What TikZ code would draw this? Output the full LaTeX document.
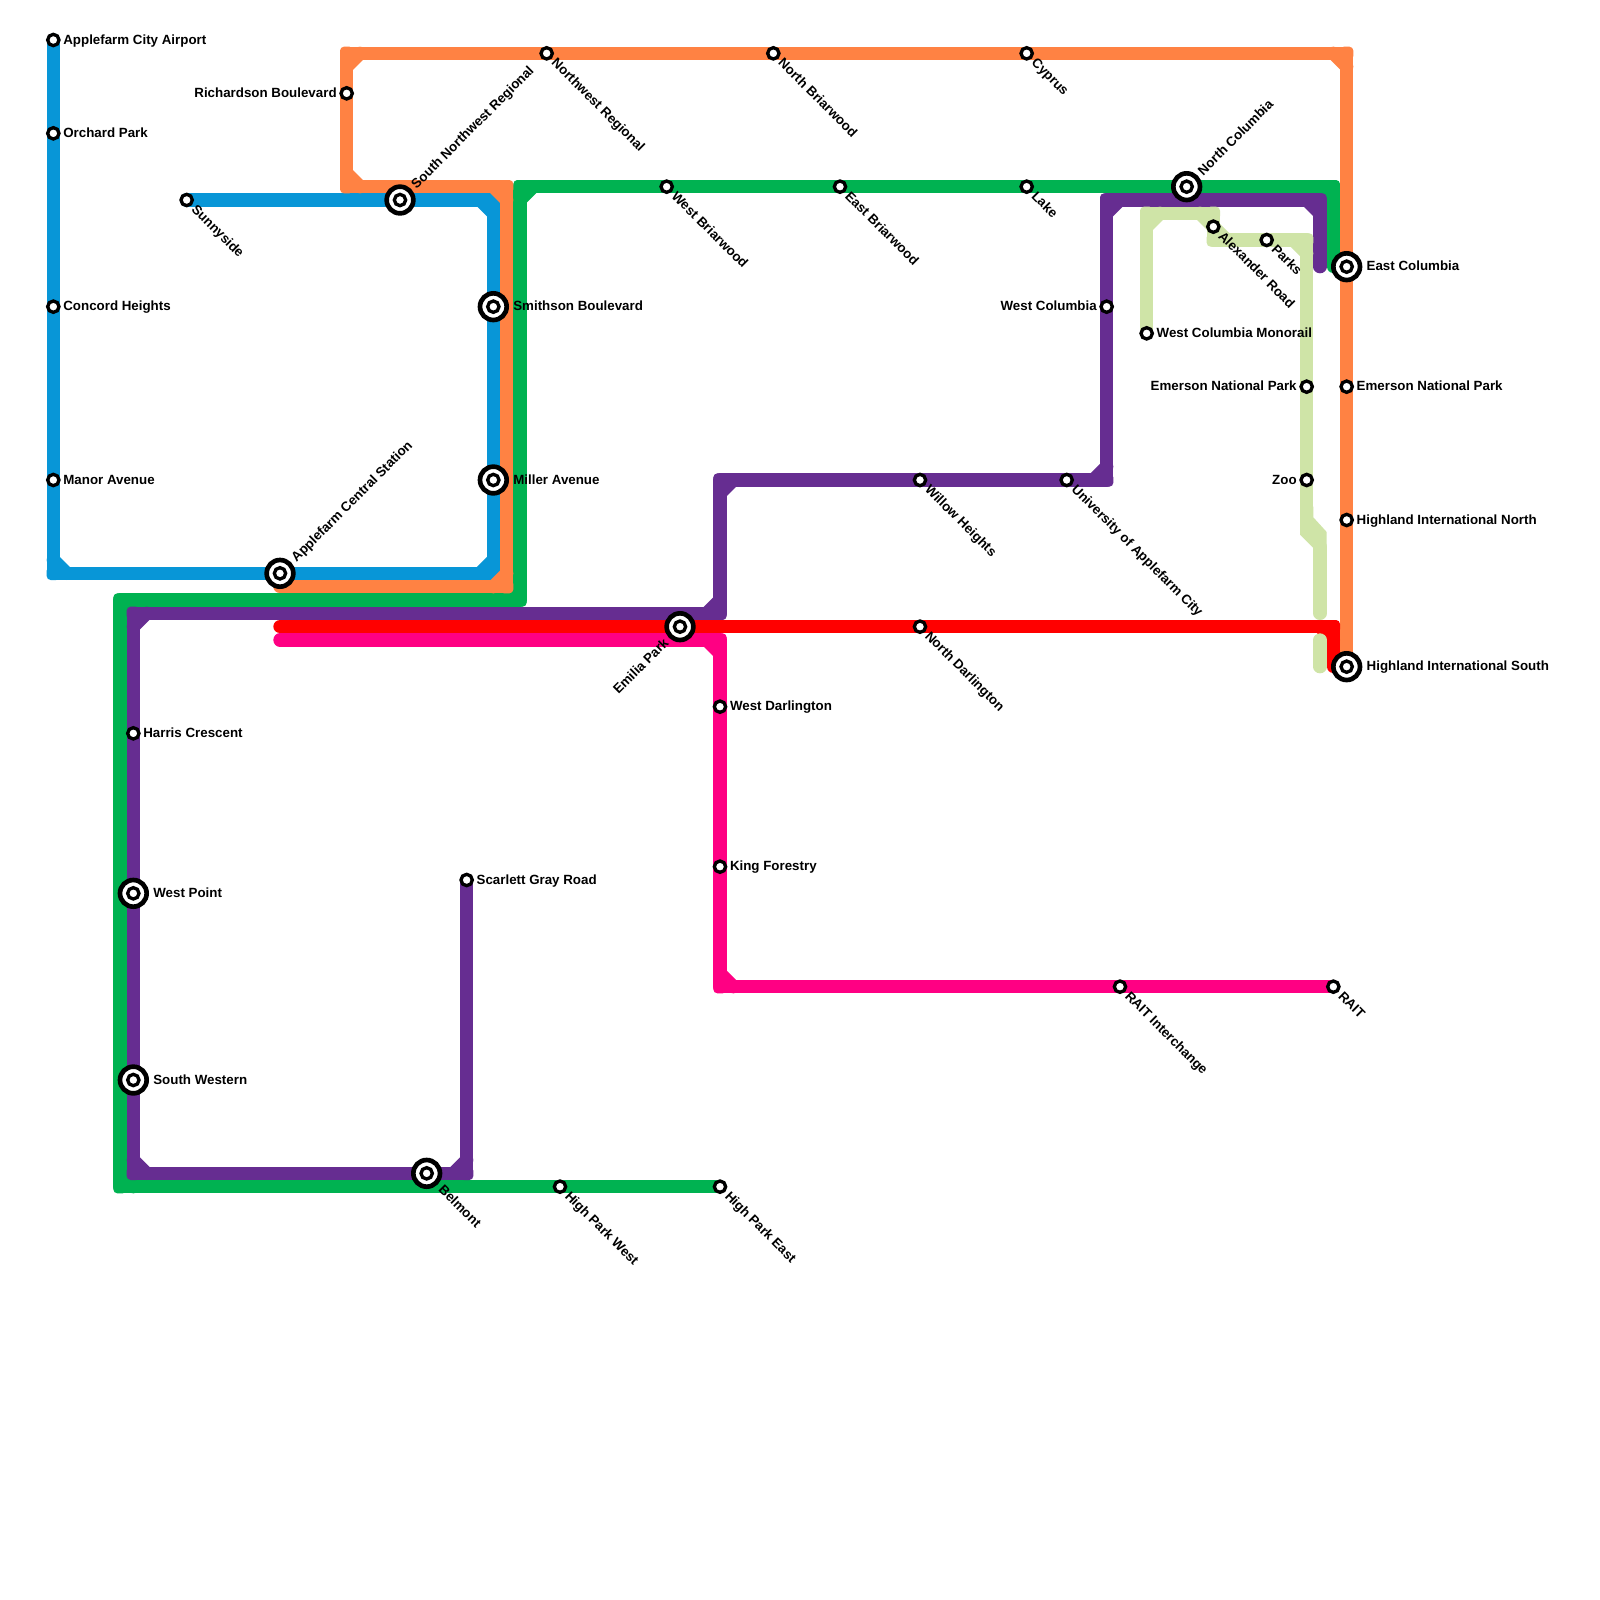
\documentclass[tikz,border=0pt]{standalone}
\usepackage{fontspec}
\setmainfont{Liberation Sans}
\pgfdeclarelayer{lines}
\pgfsetlayers{lines,main}
\definecolor{lblue}{HTML}{0896D7}
\definecolor{lorange}{HTML}{FF8243}
\definecolor{lgreen}{HTML}{00B251}
\definecolor{lpurple}{HTML}{662D91}
\definecolor{lpink}{HTML}{FF0083}
\definecolor{lred}{HTML}{FF0000}
\definecolor{lmono}{HTML}{CFE4A7}
\tikzset{
  metro/.style={line width=10pt,line cap=round,line join=round},
  stn/.style={circle,draw=black,fill=white,line width=2.5pt,minimum size=8.5pt,inner sep=0pt,outer sep=0pt},
  hub/.style={circle,draw=black,fill=white,line width=3.5pt,minimum size=20pt,inner sep=0pt,outer sep=0pt,
    path picture={\draw[black,line width=2.5pt] (path picture bounding box.center) circle (4.25pt);}},
  lab/.style={font=\fontsize{10pt}{12pt}\selectfont\bfseries,text=black,inner sep=0pt,outer sep=0pt,text height=7.2pt,text depth=0pt},
  labR/.style={lab,anchor=west,shift={(7.5pt,0.5pt)}},
  labL/.style={lab,anchor=east,shift={(-7.5pt,0.5pt)}},
  labRR/.style={lab,anchor=west,shift={(15pt,0.5pt)}},
  labSE/.style={lab,anchor=west,shift={(5.75pt,-5.25pt)},rotate=-45},
  labSEE/.style={lab,anchor=west,shift={(11pt,-10.5pt)},rotate=-45},
  labNE/.style={lab,anchor=west,shift={(10pt,10.5pt)},rotate=45},
  labSW/.style={lab,anchor=east,shift={(-10.5pt,-10.5pt)},rotate=45},
}
\newcommand{\bendat}[6]{% colour, name, x, y, sign x, sign y
  \coordinate (#2) at (#3,#4);
  \fill[#1,rounded corners=3pt] (#3-0.5,#4-0.5) rectangle (#3+0.5,#4+0.5);
  \draw[metro,#1] (#3+#5,#4) -- (#3,#4+#6);
}
\begin{document}
\begin{tikzpicture}[x=10pt,y=-10pt]
\useasboundingbox (0,0) rectangle (120,120);
% stations
\node[stn] (airport) at (4,3) {};
\node[stn] (orchard) at (4,10) {};
\node[stn] (concord) at (4,23) {};
\node[stn] (manor) at (4,36) {};
\node[stn] (sunnyside) at (14,15) {};
\node[hub] (snwr) at (30,15) {};
\node[hub] (central) at (21,43) {};
\node[hub] (smithson) at (37,23) {};
\node[hub] (miller) at (37,36) {};
\node[stn] (richardson) at (26,7) {};
\node[stn] (nwr) at (41,4) {};
\node[stn] (nbriar) at (58,4) {};
\node[stn] (cyprus) at (77,4) {};
\node[hub] (eastcol) at (101,20) {};
\node[stn] (emersonO) at (101,29) {};
\node[stn] (hin) at (101,39) {};
\node[hub] (his) at (101,50) {};
\node[stn] (hpe) at (54,89) {};
\node[stn] (hpw) at (42,89) {};
\node[hub] (belmont) at (32,88) {};
\node[stn] (wbriar) at (50,14) {};
\node[stn] (ebriar) at (63,14) {};
\node[stn] (lake) at (77,14) {};
\node[hub] (northcol) at (89,14) {};
\node[stn] (scarlett) at (35,66) {};
\node[stn] (harris) at (10,55) {};
\node[hub] (westpoint) at (10,67) {};
\node[hub] (southw) at (10,81) {};
\node[stn] (willow) at (69,36) {};
\node[stn] (univ) at (80,36) {};
\node[stn] (westcol) at (83,23) {};
\node[stn] (monorail) at (86,25) {};
\node[stn] (alexander) at (91,17) {};
\node[stn] (parks) at (95,18) {};
\node[stn] (emersonM) at (98,29) {};
\node[stn] (zoo) at (98,36) {};
\node[hub] (emilia) at (51,47) {};
\node[stn] (ndarl) at (69,47) {};
\node[stn] (wdarl) at (54,53) {};
\node[stn] (king) at (54,65) {};
\node[stn] (raiti) at (84,74) {};
\node[stn] (rait) at (100,74) {};
% labels
\node[labR] (l1) at (airport) {Applefarm City Airport};
\node[labR] (l2) at (orchard) {Orchard Park};
\node[labR] (l3) at (concord) {Concord Heights};
\node[labR] (l4) at (manor) {Manor Avenue};
\node[labSE] (l5) at (sunnyside) {Sunnyside};
\node[labNE] (l6) at (snwr) {South Northwest Regional};
\node[labNE] (l7) at (central) {Applefarm Central Station};
\node[labRR] (l8) at (smithson) {Smithson Boulevard};
\node[labRR] (l9) at (miller) {Miller Avenue};
\node[labL] (l10) at (richardson) {Richardson Boulevard};
\node[labSE] (l11) at (nwr) {Northwest Regional};
\node[labSE] (l12) at (nbriar) {North Briarwood};
\node[labSE] (l13) at (cyprus) {Cyprus};
\node[labRR] (l14) at (eastcol) {East Columbia};
\node[labR] (l15) at (emersonO) {Emerson National Park};
\node[labR] (l16) at (hin) {Highland International North};
\node[labRR] (l17) at (his) {Highland International South};
\node[labSE] (l18) at (hpe) {High Park East};
\node[labSE] (l19) at (hpw) {High Park West};
\node[labSEE] (l20) at (belmont) {Belmont};
\node[labSE] (l21) at (wbriar) {West Briarwood};
\node[labSE] (l22) at (ebriar) {East Briarwood};
\node[labSE] (l23) at (lake) {Lake};
\node[labNE] (l24) at (northcol) {North Columbia};
\node[labR] (l25) at (scarlett) {Scarlett Gray Road};
\node[labR] (l26) at (harris) {Harris Crescent};
\node[labRR] (l27) at (westpoint) {West Point};
\node[labRR] (l28) at (southw) {South Western};
\node[labSE] (l29) at (willow) {Willow Heights};
\node[labSE] (l30) at (univ) {University of Applefarm City};
\node[labL] (l31) at (westcol) {West Columbia};
\node[labR] (l32) at (monorail) {West Columbia Monorail};
\node[labSE] (l33) at (alexander) {Alexander Road};
\node[labSE] (l34) at (parks) {Parks};
\node[labL] (l35) at (emersonM) {Emerson National Park};
\node[labL] (l36) at (zoo) {Zoo};
\node[labSW] (l37) at (emilia) {Emilia Park};
\node[labSE] (l38) at (ndarl) {North Darlington};
\node[labR] (l39) at (wdarl) {West Darlington};
\node[labR] (l40) at (king) {King Forestry};
\node[labSE] (l41) at (raiti) {RAIT Interchange};
\node[labSE] (l42) at (rait) {RAIT};
% lines
\begin{pgfonlayer}{lines}
\fill[white] (0,0) rectangle (120,120);
% blue
\bendat{lblue}{bb1}{37}{15}{-1}{1}
\bendat{lblue}{bb2}{37}{43}{-1}{-1}
\bendat{lblue}{bb3}{4}{43}{1}{-1}
\draw[metro,lblue] (sunnyside.center) -- (snwr.center) -- (bb1) -- (smithson.center) -- (miller.center) -- (bb2) -- (central.center) -- (bb3) -- (manor.center) -- (concord.center) -- (orchard.center) -- (airport.center);
% green
\bendat{lgreen}{gb1}{9}{89}{1}{-1}
\bendat{lgreen}{gb2}{9}{45}{1}{1}
\bendat{lgreen}{gb3}{39}{45}{-1}{-1}
\bendat{lgreen}{gb4}{39}{14}{1}{1}
\bendat{lgreen}{gb5}{100}{14}{-1}{1}
\coordinate (gb6) at (100,20);
\draw[metro,lgreen] (hpe.center) -- (hpw.center) -- (gb1) -- (gb2) -- (gb3) -- (gb4) -- (wbriar.center) -- (ebriar.center) -- (lake.center) -- (northcol.center) -- (gb5) -- (gb6) -- (eastcol.center);
% orange
\coordinate (ob0) at (21,44);
\bendat{lorange}{ob1}{38}{44}{-1}{-1}
\bendat{lorange}{ob2}{38}{14}{-1}{1}
\bendat{lorange}{ob3}{26}{14}{1}{-1}
\bendat{lorange}{ob4}{26}{4}{1}{1}
\bendat{lorange}{ob5}{101}{4}{-1}{1}
\draw[metro,lorange] (ob0) -- (ob1) -- (ob2) -- (ob3) -- (richardson.center) -- (ob4) -- (nwr.center) -- (nbriar.center) -- (cyprus.center) -- (ob5) -- (eastcol.center) -- (emersonO.center) -- (hin.center) -- (his.center);
% purple
\bendat{lpurple}{pb1}{35}{88}{-1}{-1}
\bendat{lpurple}{pb2}{10}{88}{1}{-1}
\bendat{lpurple}{pb3}{10}{46}{1}{1}
\bendat{lpurple}{pb4}{54}{46}{-1}{-1}
\bendat{lpurple}{pb5}{54}{36}{1}{1}
\bendat{lpurple}{pb6}{83}{36}{-1}{-1}
\bendat{lpurple}{pb7}{83}{15}{1}{1}
\bendat{lpurple}{pb8}{99}{15}{-1}{1}
\coordinate (pb9) at (99,20);
\draw[metro,lpurple] (scarlett.center) -- (pb1) -- (belmont.center) -- (pb2) -- (southw.center) -- (westpoint.center) -- (harris.center) -- (pb3) -- (pb4) -- (pb5) -- (willow.center) -- (univ.center) -- (pb6) -- (westcol.center) -- (pb7) -- (pb8) -- (pb9);
% pink
\coordinate (kb0) at (21,48);
\bendat{lpink}{kb1}{54}{48}{-1}{1}
\bendat{lpink}{kb2}{54}{74}{1}{-1}
\draw[metro,lpink] (kb0) -- (kb1) -- (wdarl.center) -- (king.center) -- (kb2) -- (raiti.center) -- (rait.center);
% red
\coordinate (rb0) at (21,47);
\bendat{lred}{rb1}{100}{47}{-1}{1}
\coordinate (rb2) at (100,50);
\draw[metro,lred] (rb0) -- (emilia.center) -- (ndarl.center) -- (rb1) -- (rb2) -- (his.center);
% monorail
\bendat{lmono}{mb1}{86}{16}{1}{1}
\bendat{lmono}{mb2}{91}{16}{-1}{1}
\bendat{lmono}{mb3}{91}{18}{1}{-1}
\bendat{lmono}{mb4}{98}{18}{-1}{1}
\coordinate (mb5) at (98,39);
\coordinate (mb6) at (99,41);
\coordinate (mb7) at (99,46);
\coordinate (mb8) at (99,48);
\coordinate (mb9) at (99,50);
\draw[metro,lmono] (monorail.center) -- (mb1) -- (mb2) -- (alexander.center) -- (mb3) -- (parks.center) -- (mb4) -- (emersonM.center) -- (zoo.center) -- (mb5);
\fill[lmono] (97.5,38) -- (98.5,38) -- (98.5,38.8) -- (99.5,39.9) -- (99.5,42) -- (98.5,42) -- (98.5,41.1) -- (97.5,40.1) -- cycle;
\draw[metro,lmono] (mb6) -- (mb7);
\draw[metro,lmono] (mb8) -- (mb9);
\end{pgfonlayer}
\end{tikzpicture}
\end{document}
